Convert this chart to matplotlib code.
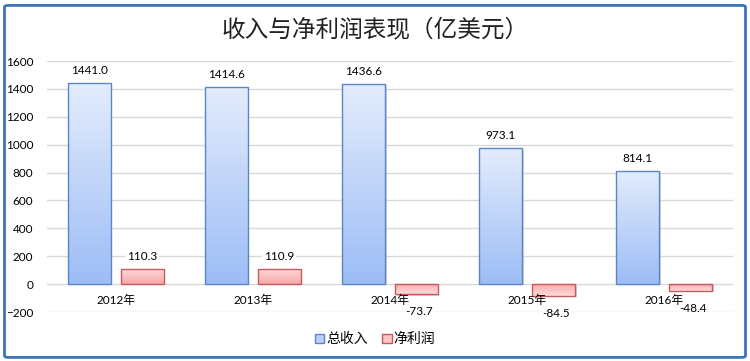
import matplotlib.pyplot as plt
import numpy as np
from matplotlib.colors import LinearSegmentedColormap
from matplotlib.patches import FancyBboxPatch, Patch

plt.rcParams['font.family'] = ['Noto Sans CJK SC', 'DejaVu Sans']

# 数据
years = ['2012年', '2013年', '2014年', '2015年', '2016年']
revenue = [1441.0, 1414.6, 1436.6, 973.1, 814.1]
net_profit = [110.3, 110.9, -73.7, -84.5, -48.4]
series_names = ['总收入', '净利润']

num_font = ['Lato', 'Noto Sans CJK SC']

fig = plt.figure(figsize=(7.5, 3.61), dpi=100)
ax = fig.add_axes([0.0627, 0.1357, 0.9143, 0.6953])

x = np.arange(len(years))
width = 0.313
offset = 0.193

blue_cmap = LinearSegmentedColormap.from_list('b', ['#9dbdf6', '#e3ecfc'])
red_cmap = LinearSegmentedColormap.from_list('r', ['#f7a9a9', '#ffdcdc'])
grad = np.linspace(0, 1, 100).reshape(-1, 1)


def gradient_bars(xs, vals, cmap, edge):
    bars = ax.bar(xs, vals, width, facecolor='none', edgecolor=edge,
                  linewidth=1.0, zorder=3)
    for b, v in zip(bars, vals):
        x0, w = b.get_x(), b.get_width()
        y0, y1 = min(0, v), max(0, v)
        # 阴影
        ax.add_patch(plt.Rectangle((x0 + 0.012, y0 - 8), w, y1 - y0,
                                   color='#bbbbbb', alpha=0.6, zorder=2,
                                   linewidth=0))
        img = grad if v >= 0 else grad[::-1]
        im = ax.imshow(img, extent=(x0, x0 + w, y0, y1), origin='lower',
                       cmap=cmap, aspect='auto', zorder=2.5)
        im.set_clip_path(b)
    return bars


gradient_bars(x - offset, revenue, blue_cmap, '#5a86c8')
gradient_bars(x + offset, net_profit, red_cmap, '#c8585a')

for xi, v in zip(x - offset, revenue):
    ax.annotate(f'{v:.1f}', (xi, v), xytext=(0, 9), textcoords='offset points',
                ha='center', va='center', fontsize=8.5, zorder=4,
                family=num_font, bbox=dict(fc='white', ec='none', pad=1.5))
for xi, v in zip(x + offset, net_profit):
    dy = 9 if v >= 0 else -12.5
    ax.annotate(f'{v:.1f}', (xi + (0 if v >= 0 else 0.02), v), xytext=(0, dy),
                textcoords='offset points',
                ha='center', va='center', fontsize=8.5, zorder=4,
                family=num_font,
                bbox=dict(fc='white', ec='none', pad=1.5) if v >= 0 else None)

# 类别标签放在零线下方
for xi, lab in zip(x, years):
    ax.annotate(lab, (xi, 0), xytext=(0, -12), textcoords='offset points',
                ha='center', va='center', fontsize=8.5, zorder=4,
                family=num_font)

ax.set_xlim(-0.5, len(years) - 0.5)
ax.set_ylim(-200, 1600)
ax.set_yticks(np.arange(-200, 1601, 200))
ax.set_xticks([])
ax.tick_params(axis='y', length=0, labelsize=8.5, pad=10)
for t in ax.get_yticklabels():
    t.set_family(num_font)
ax.grid(axis='y', color='#d9d9d9', linewidth=1, zorder=0)
ax.set_axisbelow(True)
for s in ax.spines.values():
    s.set_visible(False)

fig.text(0.5, 0.918, '收入与净利润表现（亿美元）', ha='center', va='center',
         fontsize=17, color='#222222')

# 图例
handles = [Patch(facecolor='#b9d0f8', edgecolor='#5a86c8'),
           Patch(facecolor='#fbc3c3', edgecolor='#c8585a')]
fig.legend(handles, series_names, loc='center', bbox_to_anchor=(0.5, 0.06),
           ncol=2, frameon=False, fontsize=10, handlelength=0.7,
           handleheight=0.7, handletextpad=0.15, columnspacing=1.0)

# 外框
fig.patches.append(FancyBboxPatch((0.006, 0.01), 0.988, 0.975,
                                  boxstyle='round,pad=0,rounding_size=0.005',
                                  transform=fig.transFigure, fill=False,
                                  edgecolor='#3f73b8', linewidth=2))

fig.savefig('out.png', dpi=100)
